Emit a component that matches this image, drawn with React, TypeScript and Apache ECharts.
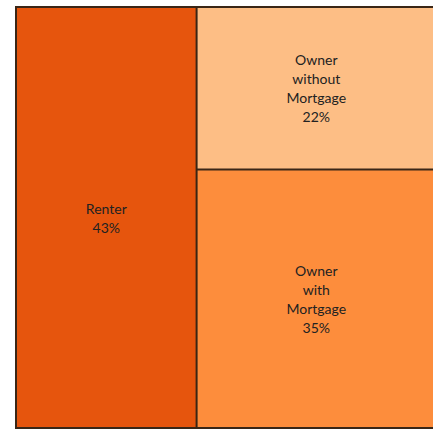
import React, { useEffect, useRef } from "react";
import * as echarts from "echarts";

const categories = ["Renter", "Owner without Mortgage", "Owner with Mortgage"];
const shares = [43, 22, 35];
const colors = ["#E6550D", "#FDBE85", "#FD8D3C"];

export default function App() {
  const ref = useRef<HTMLDivElement>(null);
  useEffect(() => {
    if (!ref.current) return;
    const chart = echarts.init(ref.current, undefined, { renderer: "svg" });
    const leaf = (i: number) => ({
      name: categories[i],
      value: shares[i],
      itemStyle: { color: colors[i] },
    });
    chart.setOption({
      animation: false,
      series: [
        {
          type: "treemap",
          left: 15,
          top: 6,
          width: 422,
          height: 423,
          sort: false,
          roam: false,
          nodeClick: false,
          breadcrumb: { show: false },
          squareRatio: 1.618,
          itemStyle: { borderWidth: 1, borderColor: "#3a2616", gapWidth: 0 },
          label: {
            show: true,
            position: "inside",
            align: "center",
            verticalAlign: "middle",
            fontFamily: "Lato",
            fontSize: 14,
            lineHeight: 19,
            color: "#222",
            formatter: (p: any) => p.name.split(" ").join("\n") + "\n" + p.value + "%",
          },
          upperLabel: { show: false },
          data: [
            leaf(0),
            {
              name: "Owner",
              itemStyle: { borderWidth: 0, gapWidth: 0, borderColor: "#3a2616" },
              children: [leaf(1), leaf(2)],
            },
          ],
        },
      ],
    });
    return () => chart.dispose();
  }, []);
  return (
    <div
      ref={ref}
      style={{ position: "fixed", left: 0, top: 0, width: 433, height: 430, background: "#fff" }}
    />
  );
}
